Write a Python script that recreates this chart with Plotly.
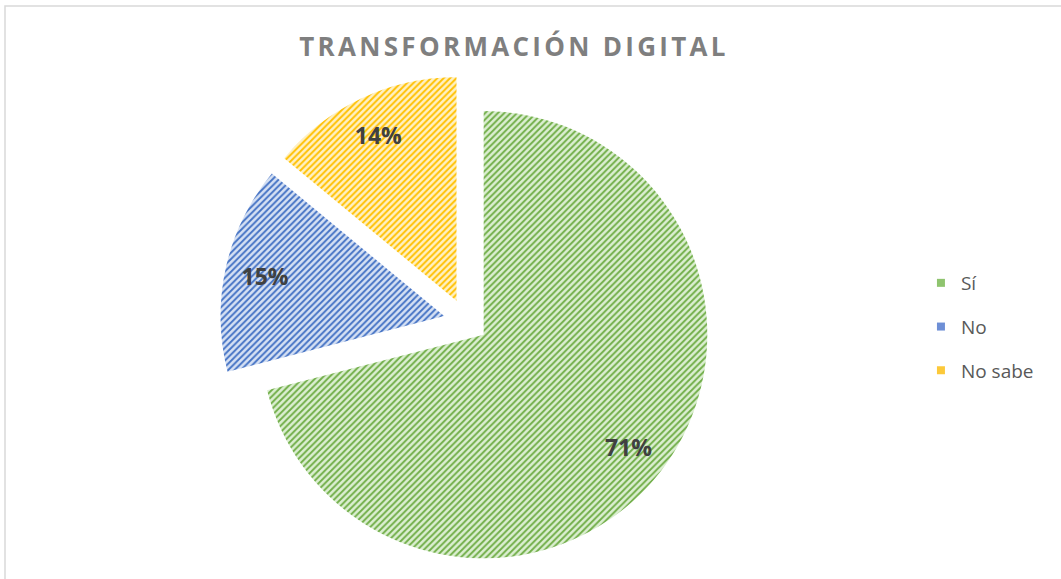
import plotly.graph_objects as go

labels = ["Sí", "No", "No sabe"]
values = [71, 15, 14]
fg_colors = ["#70AD47", "#4472C4", "#FFC000"]
bg_colors = ["#dcefd2", "#d6e1f4", "#fff1c4"]
legend_colors = ["#8fc46f", "#6e8fd6", "#fcc93a"]
pulls = [0.1, 0.1, 0.1]
title_text = "TRANSFORMACIÓN DIGITAL"

W, H = 1061, 579
cx, cy, half = 466, 321, 246
m_t, m_b = cy - half, H - (cy + half)
plot_h = H - m_t - m_b
dom_x = [(cx - half) / W, (cx + half) / W]

fig = go.Figure()
# slices
fig.add_trace(go.Pie(
    labels=labels, values=values, sort=False, direction="clockwise", rotation=0,
    pull=pulls, showlegend=False,
    marker=dict(
        colors=bg_colors, line=dict(width=0, color="white"),
        pattern=dict(shape="/", size=4.5, solidity=0.42,
                     fgcolor=fg_colors, bgcolor=bg_colors, fillmode="replace"),
    ),
    textinfo="none", hoverinfo="label+percent",
    domain=dict(x=dom_x, y=[0, 1]),
))
# percentage labels, placed by plotly in the outer ring of the same pie geometry
fig.add_trace(go.Pie(
    labels=labels, values=values, sort=False, direction="clockwise", rotation=0,
    pull=pulls, showlegend=False, hole=0.64,
    marker=dict(colors=["rgba(0,0,0,0)"] * 3, line=dict(width=0)),
    texttemplate="%{percent:.0%}", textposition="inside",
    insidetextorientation="horizontal",
    textfont=dict(family="Open Sans", size=23, color="#404040", weight="bold"),
    hoverinfo="skip",
    domain=dict(x=dom_x, y=[0, 1]),
))

for i, lab in enumerate(labels):
    fig.add_trace(go.Scatter(
        x=[None], y=[None], mode="markers", name=lab, legendgroup=lab,
        marker=dict(symbol="square", size=8, color=legend_colors[i]),
    ))

fig.update_layout(
    width=W, height=H,
    margin=dict(l=0, r=0, t=m_t, b=m_b),
    paper_bgcolor="white", plot_bgcolor="white",
    xaxis=dict(visible=False), yaxis=dict(visible=False),
    title=dict(
        text=f"<b><span style='letter-spacing:3.3px'>{title_text}</span></b>",
        x=514 / W, xanchor="center",
        y=1 - 47 / H, yanchor="middle",
        font=dict(family="Open Sans", size=26, color="#7f7f7f"),
    ),
    legend=dict(
        x=0.868, xanchor="left",
        y=(H - m_b - 327) / plot_h, yanchor="middle",
        font=dict(family="Open Sans", size=19, color="#595959"),
        tracegroupgap=16, bgcolor="rgba(0,0,0,0)",
    ),
    shapes=[dict(
        type="rect", xref="paper", yref="paper",
        x0=5 / W, x1=1.02, y0=-0.05, y1=(H - m_b - 6) / plot_h,
        line=dict(color="#d9d9d9", width=1.5),
        fillcolor="rgba(0,0,0,0)", layer="below",
    )],
)

fig.write_html("out.html", config={"displayModeBar": False},
               post_script="document.body.style.margin='0';")
